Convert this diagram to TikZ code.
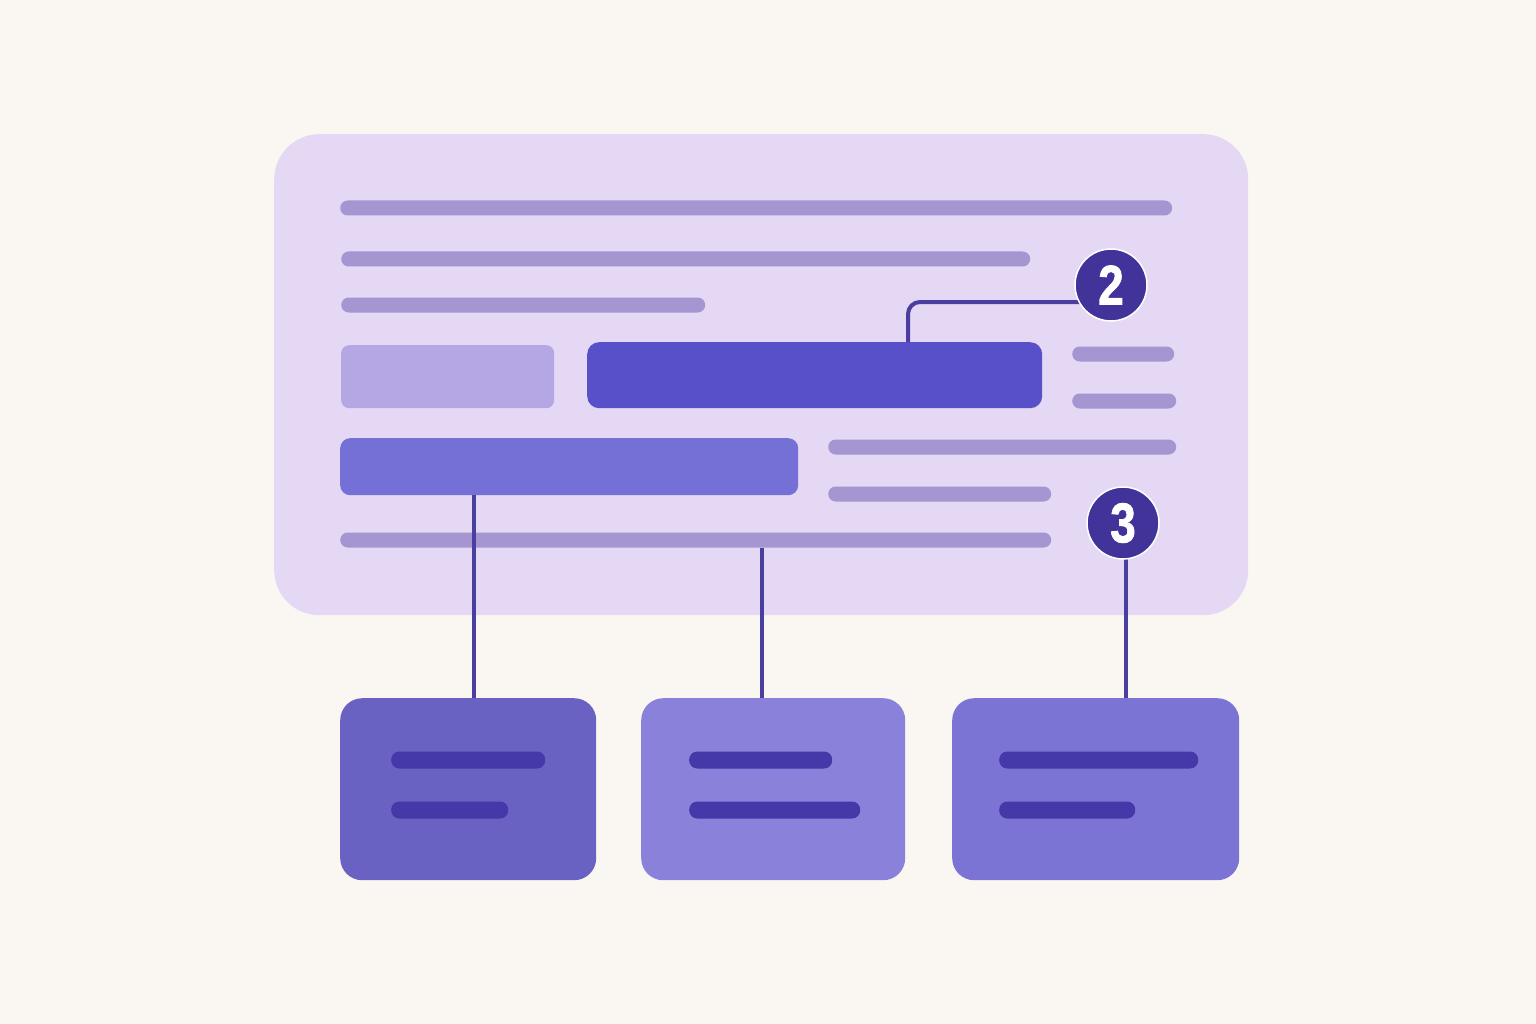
\documentclass[tikz,border=0pt]{standalone}
\usepackage{fontspec}
\setmainfont{Liberation Sans}
\newfontfamily\badgefont{Liberation Sans}[FakeBold=1.5]
\pgfdeclarelayer{back}
\pgfdeclarelayer{front}
\pgfsetlayers{back,main,front}
\definecolor{bgc}{HTML}{FAF7F2}
\definecolor{panelc}{HTML}{E4D8F5}
\definecolor{linec}{HTML}{A596D2}
\definecolor{lightboxc}{HTML}{B5A7E3}
\definecolor{btnc}{HTML}{5850C8}
\definecolor{midc}{HTML}{7570D6}
\definecolor{circc}{HTML}{41339A}
\definecolor{connc}{HTML}{4A3E9E}
\definecolor{boxa}{HTML}{6A62C2}
\definecolor{boxb}{HTML}{8A82DA}
\definecolor{boxc}{HTML}{7C74D4}
\definecolor{innerc}{HTML}{4538A8}
\tikzset{
  bar/.style={fill=linec, rounded corners=7.5pt, minimum height=15pt, inner sep=0pt, anchor=west},
  innerbar/.style={fill=innerc, rounded corners=8pt, minimum height=17pt, inner sep=0pt, anchor=west},
  card/.style={rounded corners=22pt, minimum width=#1, minimum height=182pt, inner sep=0pt, anchor=north west},
  conn/.style={draw=connc, line width=4pt},
  badge/.style={circle, fill=circc, draw=white, line width=1.5pt, minimum size=72pt, inner sep=0pt, text=white, font=\badgefont\bfseries\fontsize{56}{56}\selectfont}
}
\begin{document}
\begin{tikzpicture}[x=1pt,y=-1pt]
\begin{pgfonlayer}{back}
\fill[bgc] (0,0) rectangle (1536,1024);
\node[fill=panelc, rounded corners=45pt, minimum width=974pt, minimum height=481pt, inner sep=0pt, anchor=north west] (panel) at (274,134) {};
\end{pgfonlayer}
\useasboundingbox (0,0) rectangle (1536,1024);
% text lines
\node[bar, minimum width=832pt] (l1) at (340,208) {};
\node[bar, minimum width=689pt] (l2) at (341,259) {};
\node[bar, minimum width=364pt] (l3) at (341,305) {};
\node[fill=lightboxc, rounded corners=8pt, minimum width=213pt, minimum height=63pt, inner sep=0pt, anchor=north west] (lightbox) at (341,345) {};
\node[fill=btnc, rounded corners=12pt, minimum width=455pt, minimum height=66pt, inner sep=0pt, anchor=north west] (btn) at (587,342) {};
\node[bar, minimum width=102pt] (r1) at (1072,354) {};
\node[bar, minimum width=104pt] (r2) at (1072,401) {};
\node[fill=midc, rounded corners=10pt, minimum width=458pt, minimum height=57pt, inner sep=0pt, anchor=north west] (midbar) at (340,438) {};
\node[bar, minimum width=348pt] (r3) at (828,447) {};
\node[bar, minimum width=223pt] (r4) at (828,494) {};
\node[bar, minimum width=711pt] (l4) at (340,540) {};
% cards
\node[card=256pt, fill=boxa] (box1) at (340,698) {};
\node[card=264pt, fill=boxb] (box2) at (641,698) {};
\node[card=287pt, fill=boxc] (box3) at (952,698) {};
\node[innerbar, minimum width=154pt] (b1a) at (391,760) {};
\node[innerbar, minimum width=117pt] (b1b) at (391,810) {};
\node[innerbar, minimum width=143pt] (b2a) at (689,760) {};
\node[innerbar, minimum width=171pt] (b2b) at (689,810) {};
\node[innerbar, minimum width=199pt] (b3a) at (999,760) {};
\node[innerbar, minimum width=136pt] (b3b) at (999,810) {};
% badges
\begin{pgfonlayer}{front}
\node[badge] (c2) at (1111,285) {\scalebox{0.82}[1]{2}};
\node[badge] (c3) at (1123,523) {\scalebox{0.82}[1]{3}};
\end{pgfonlayer}
% connectors
\coordinate (k2) at (908,302);
\coordinate (x1) at (474,0);
\coordinate (x2) at (762,0);
\coordinate (x3) at (1126,0);
\draw[conn, rounded corners=12pt] (btn.north -| k2) -- (k2) -- (c2.center |- k2);
\draw[conn] (midbar.south -| x1) -- (box1.north -| x1);
\draw[conn] (l4.south -| x2) -- (box2.north -| x2);
\draw[conn] (c3.center -| x3) -- (box3.north -| x3);
\end{tikzpicture}
\end{document}
